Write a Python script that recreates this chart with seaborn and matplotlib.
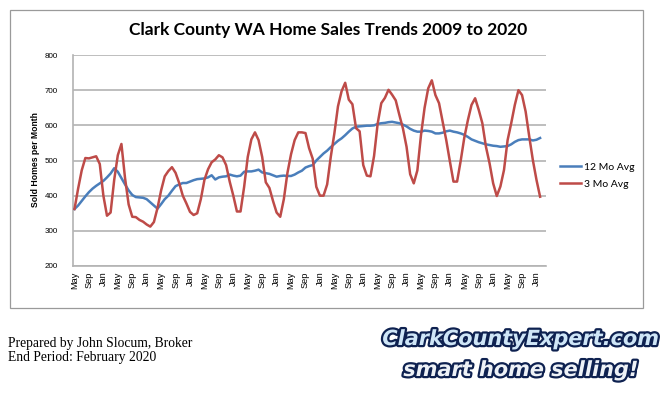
import numpy as np
import pandas as pd
import matplotlib
matplotlib.use("Agg")
import matplotlib.pyplot as plt
import seaborn as sns
from matplotlib import patheffects as pe
from matplotlib.patches import Rectangle
from matplotlib.lines import Line2D

# ---------------- data (May 2009 .. Feb 2020, monthly) ----------------
avg12 = [362, 372, 385, 398, 410, 420, 428, 435, 442, 452, 463, 478,
         468, 450, 432, 415, 402, 396, 395, 394, 390, 381, 372, 363,
         376, 390, 400, 414, 427, 432, 436, 436, 440, 444, 447, 448,
         449, 452, 458, 446, 452, 454, 455, 460, 457, 455, 457, 468,
         469, 469, 471, 474, 466, 464, 462, 458, 454, 456, 457, 456,
         456, 460, 466, 471, 480, 484, 487, 500, 510, 520, 528, 538,
         547, 556, 563, 572, 582, 591, 596, 597, 598, 599, 599, 600,
         604, 606, 607, 609, 610, 608, 606, 602, 597, 590, 585, 582,
         582, 585, 584, 582, 577, 577, 579, 583, 585, 582, 580, 577,
         573, 567, 560, 556, 552, 549, 546, 544, 542, 541, 539, 540,
         541, 546, 553, 558, 560, 560, 560, 557, 559, 564]

avg3 = [362, 420, 472, 507, 506, 509, 512, 490, 400, 343, 352, 445,
        515, 547, 450, 375, 340, 339, 331, 326, 318, 312, 325, 365,
        415, 455, 470, 481, 465, 436, 400, 378, 354, 345, 350, 390,
        445, 475, 495, 503, 515, 509, 487, 440, 400, 355, 355, 425,
        510, 560, 580, 558, 510, 438, 422, 385, 352, 340, 390, 465,
        518, 558, 580, 580, 578, 535, 505, 425, 400, 400, 432, 510,
        577, 654, 697, 721, 673, 660, 592, 583, 487, 457, 455, 513,
        605, 663, 678, 701, 687, 671, 630, 591, 539, 461, 435, 472,
        572, 650, 705, 728, 686, 663, 610, 558, 498, 440, 440, 499,
        565, 615, 658, 677, 644, 606, 539, 492, 435, 399, 426, 473,
        558, 606, 658, 700, 686, 639, 568, 501, 445, 397]

tick_labels = ["May", "Sep", "Jan"] * 11
y_ticks = [200, 300, 400, 500, 600, 700, 800]
series_names = ["12 Mo Avg", "3 Mo Avg"]

title = "Clark County WA Home Sales Trends 2009 to 2020"
ylabel = "Sold Homes per Month"
footer1 = "Prepared by John Slocum, Broker"
footer2 = "End Period: February 2020"
logo1 = "ClarkCountyExpert.com"
logo2 = "smart home selling!"

BLUE = "#4a7ebb"
RED = "#be4b48"
GRID = "#b3b3b3"

# ---------------- figure ----------------
W, H = 671, 394
fig = plt.figure(figsize=(W / 100, H / 100), dpi=100)
fig.patch.set_facecolor("white")

def fx(px):
    return px / W

def fy(py):
    return 1 - py / H

# chart frame
fig.patches.append(Rectangle((fx(10), fy(308)), fx(643) - fx(10), fy(10) - fy(308),
                             transform=fig.transFigure, fill=False,
                             edgecolor="#9a9a9a", linewidth=0.9, zorder=0))

ax = fig.add_axes([fx(72.7), fy(266), fx(545.5) - fx(72.7), fy(55) - fy(266)])

n = len(avg3)
df = pd.DataFrame({"m": np.arange(n), series_names[0]: avg12, series_names[1]: avg3})
long = df.melt("m", var_name="series", value_name="sold")
sns.lineplot(data=long, x="m", y="sold", hue="series",
             palette={series_names[0]: BLUE, series_names[1]: RED},
             linewidth=1.8, ax=ax, legend=False, zorder=3)

ax.set_xlim(-0.5, n + 0.5)
ax.set_ylim(200, 800)
ax.set_yticks(y_ticks)
ax.set_yticklabels([str(v) for v in y_ticks], fontsize=5.8, family="Liberation Sans")
ax.set_xticks(np.arange(0, 4 * len(tick_labels), 4))
ax.set_xticklabels(tick_labels, rotation=90, fontsize=6.6, family="Liberation Sans",
                   va="top", ha="center")
ax.tick_params(axis="both", length=0)
ax.tick_params(axis="y", pad=10.5)
ax.tick_params(axis="x", pad=4)
ax.set_xlabel("")
ax.set_ylabel("")
ax.grid(axis="y", color=GRID, linewidth=1.2)
ax.grid(axis="x", visible=False)
ax.set_axisbelow(True)
for s in ["top", "right"]:
    ax.spines[s].set_visible(False)
for s in ["left", "bottom"]:
    ax.spines[s].set_color(GRID)
    ax.spines[s].set_linewidth(1.2)
ax.set_facecolor("white")

fig.text(fx(36), fy(160), ylabel, rotation=90, ha="center", va="center",
         fontsize=6.2, fontweight="bold", family="Liberation Sans")

fig.text(fx(328), fy(30), title, ha="center", va="center", fontsize=12.5,
         fontweight="bold", family="Lato")

handles = [Line2D([], [], color=BLUE, linewidth=1.8),
           Line2D([], [], color=RED, linewidth=1.8)]
fig.legend(handles, series_names, loc="center left",
           bbox_to_anchor=(fx(556), fy(175.5)), frameon=False,
           prop={"family": "Lato", "size": 7.5}, handlelength=2.0,
           handletextpad=0.25, labelspacing=0.75, borderaxespad=0)

fig.text(fx(8), fy(343), footer1, ha="left", va="center", fontsize=9.8,
         family="Liberation Serif")
fig.text(fx(8), fy(358), footer2, ha="left", va="center", fontsize=9.8,
         family="Liberation Serif")

t1 = fig.text(fx(521), fy(339), logo1, ha="center", va="center", fontsize=15,
              fontweight="bold", fontstyle="italic", family="DejaVu Sans",
              color="#cfe6f7")
t1.set_path_effects([pe.Stroke(linewidth=3.2, foreground="#0e2150"), pe.Normal()])
t2 = fig.text(fx(521), fy(370), logo2, ha="center", va="center", fontsize=15,
              fontweight="bold", fontstyle="italic", family="DejaVu Sans",
              color="#eef2f7")
t2.set_path_effects([pe.Stroke(linewidth=3.2, foreground="#0e2150"), pe.Normal()])

fig.savefig("out.png", dpi=100)
